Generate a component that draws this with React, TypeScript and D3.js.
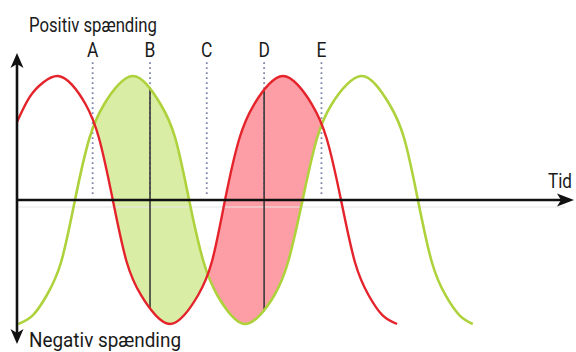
import React from "react";
import * as d3 from "d3";

// Time in degrees of phase (red wave), voltage normalised to [-1, 1]
const redTime = [0, 20, 42, 65, 87, 109, 130, 152, 174, 197, 220, 243, 265, 287, 309, 330, 353, 376, 399, 422, 445, 468, 491, 514, 536, 558, 580, 603];
const redVolt = [0.63, 0.83, 0.95, 1, 0.93, 0.77, 0.5, 0, -0.5, -0.77, -0.93, -1, -0.93, -0.77, -0.5, 0, 0.5, 0.77, 0.93, 1, 0.93, 0.77, 0.5, 0, -0.5, -0.77, -0.93, -1];

const greenTime = [2, 25, 47, 70, 92, 115, 138, 161, 184, 206, 228, 251, 273, 296, 318, 340, 362, 385, 408, 430, 453, 476, 499, 523, 547, 569, 591, 614, 636, 658, 680, 702, 723];
const greenVolt = [-1, -0.93, -0.77, -0.5, 0, 0.5, 0.77, 0.93, 1, 0.93, 0.77, 0.5, 0, -0.5, -0.77, -0.93, -1, -0.93, -0.77, -0.5, 0, 0.5, 0.77, 0.93, 1, 0.93, 0.77, 0.5, 0, -0.5, -0.77, -0.93, -1];

const markerLabels = ["A", "B", "C", "D", "E"];
const markerTime = [120, 211, 301, 392, 483];
// solid measurement lines at B and D: from upper curve to lower curve
const solidMarkers = ["B", "D"];
const solidTop = [0.91, 0.88];
const solidBottom = [-0.88, -0.9];

const W = 576;
const H = 352;

export default function App() {
  const x = d3.scaleLinear().domain([0, 882]).range([17, 573]);
  const y = d3.scaleLinear().domain([-1, 1]).range([324, 76]);

  const red: [number, number][] = redTime.map((t, i) => [t, redVolt[i]]);
  const green: [number, number][] = greenTime.map((t, i) => [t, greenVolt[i]]);

  const curve = d3.curveNatural;
  const line = d3
    .line<[number, number]>()
    .x((d) => x(d[0]))
    .y((d) => y(d[1]))
    .curve(curve);

  const areaTo = (edge: number) =>
    d3
      .area<[number, number]>()
      .x((d) => x(d[0]))
      .y0(edge)
      .y1((d) => y(d[1]))
      .curve(curve);

  const aboveRed = areaTo(0)(red) || "";
  const belowRed = areaTo(H)(red) || "";
  const aboveGreen = areaTo(0)(green) || "";
  const belowGreen = areaTo(H)(green) || "";

  const y0 = y(0);
  const axisX = x(0);
  const dotTop = y(1.11);
  const dotBottom = y(0.03);
  const font = "Roboto, 'Liberation Sans', sans-serif";
  const bIdx = markerLabels.indexOf("B");
  const dIdx = markerLabels.indexOf("D");

  return (
    <svg
      width={W}
      height={H}
      style={{ position: "absolute", left: 0, top: 0, background: "#fff" }}
    >
      <defs>
        <clipPath id="clipBelowGreen">
          <path d={belowGreen} />
        </clipPath>
        <clipPath id="clipAboveGreen">
          <path d={aboveGreen} />
        </clipPath>
        <clipPath id="clipLeft">
          <rect x={0} y={0} width={x(markerTime[dIdx])} height={H} />
        </clipPath>
        <clipPath id="clipRight">
          <rect x={x(markerTime[bIdx])} y={0} width={W} height={H} />
        </clipPath>
      </defs>

      {/* shaded regions */}
      <g clipPath="url(#clipLeft)">
        <path d={aboveRed} fill="#d9eda5" clipPath="url(#clipBelowGreen)" />
      </g>
      <g clipPath="url(#clipRight)">
        <path d={belowRed} fill="#fd9ea6" clipPath="url(#clipAboveGreen)" />
      </g>

      {/* faint line under axis */}
      <line x1={axisX} x2={565} y1={y0 + 7} y2={y0 + 7} stroke="#e6e6e6" strokeWidth={1} />

      {/* dotted marker lines */}
      {markerTime.map((t, i) => (
        <line
          key={"dot" + i}
          x1={x(t)}
          x2={x(t)}
          y1={dotTop}
          y2={dotBottom}
          stroke="#7f86a8"
          strokeWidth={1.8}
          strokeDasharray="1.6 3.4"
        />
      ))}

      {/* solid measurement lines */}
      {solidMarkers.map((m, i) => {
        const t = markerTime[markerLabels.indexOf(m)];
        return (
          <line
            key={"solid" + m}
            x1={x(t)}
            x2={x(t)}
            y1={y(solidTop[i])}
            y2={y(solidBottom[i])}
            stroke="#3a3a3a"
            strokeWidth={1.6}
          />
        );
      })}

      {/* curves */}
      <path d={line(green) || ""} fill="none" stroke="#aed23c" strokeWidth={2.6} />
      <path d={line(red) || ""} fill="none" stroke="#e4232b" strokeWidth={2.4} />

      {/* axes */}
      <line x1={axisX} x2={axisX} y1={60} y2={337} stroke="#111" strokeWidth={2.6} />
      <line x1={axisX} x2={566} y1={y0} y2={y0} stroke="#111" strokeWidth={2.6} />
      <path
        d={`M${axisX},53 L${axisX + 6.5},68 L${axisX},64 L${axisX - 6.5},68 Z`}
        fill="#111"
      />
      <path
        d={`M${axisX},344 L${axisX + 6.5},329 L${axisX},333 L${axisX - 6.5},329 Z`}
        fill="#111"
      />
      <path
        d={`M574,${y0} L557,${y0 - 6.5} L561,${y0} L557,${y0 + 6.5} Z`}
        fill="#111"
      />

      {/* labels */}
      {markerLabels.map((l, i) => (
        <text
          key={"lab" + l}
          x={x(markerTime[i])}
          y={57}
          textAnchor="middle"
          fontFamily={font}
          fontSize={20.5}
          fill="#1a1a1a"
          transform={`translate(${x(markerTime[i])},0) scale(0.85,1) translate(${-x(markerTime[i])},0)`}
        >
          {l}
        </text>
      ))}
      <text
        x={29}
        y={32}
        fontFamily={font}
        fontSize={20.5}
        fill="#1a1a1a"
        textLength={128}
        lengthAdjust="spacingAndGlyphs"
      >
        Positiv spænding
      </text>
      <text
        x={29}
        y={347}
        fontFamily={font}
        fontSize={21}
        fill="#1a1a1a"
        textLength={152}
        lengthAdjust="spacingAndGlyphs"
      >
        Negativ spænding
      </text>
      <text
        x={548}
        y={188}
        fontFamily={font}
        fontSize={21}
        fill="#1a1a1a"
        textLength={24}
        lengthAdjust="spacingAndGlyphs"
      >
        Tid
      </text>
    </svg>
  );
}
